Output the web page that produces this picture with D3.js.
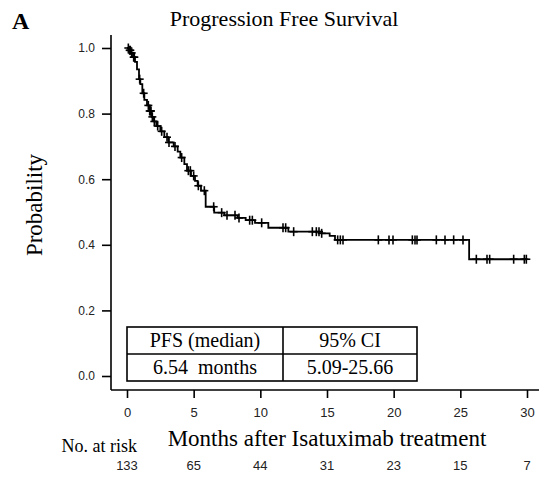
<!DOCTYPE html>
<html>
<head>
<meta charset="utf-8">
<script src="https://cdn.jsdelivr.net/npm/d3@7"></script>
<style>
  body { margin: 0; background: #fff; }
  svg { display: block; }
</style>
</head>
<body>
<svg id="chart" width="539" height="479"></svg>
<script>
// step times (months) and survival just after each step
var stepTimes = [0.15, 0.3, 0.45, 0.6, 0.75, 0.9, 1.0, 1.15, 1.3, 1.5, 1.7, 1.85, 2.0, 2.2, 2.5, 2.8,
  3.1, 3.5, 3.8, 4.0, 4.3, 4.5, 4.8, 5.1, 5.3, 5.55, 5.9, 6.54, 7.3, 8.3, 8.9, 9.6, 10.6, 12.1,
  14.6, 15.2, 15.6, 25.66];
var stepSurv = [0.993, 0.985, 0.972, 0.958, 0.935, 0.905, 0.89, 0.862, 0.842, 0.825, 0.808, 0.79,
  0.776, 0.762, 0.746, 0.728, 0.712, 0.7, 0.684, 0.666, 0.646, 0.626, 0.61, 0.595, 0.58, 0.565,
  0.516, 0.498, 0.49, 0.482, 0.475, 0.467, 0.452, 0.44, 0.435, 0.427, 0.415, 0.356];
// censored observations (months)
var censorTimes = [0.1, 0.2, 0.25, 0.35, 0.5, 0.55, 0.95, 1.25, 1.6, 1.7, 1.75, 1.8, 1.9, 2.05, 2.3,
  2.6, 3.0, 3.15, 3.6, 4.1, 4.6, 4.75, 5.0, 5.35, 5.8, 6.5, 7.1, 7.5, 8.1, 8.4, 9.2, 9.4, 10.1,
  11.7, 11.9, 12.5, 13.9, 14.2, 14.4, 14.6, 15.8, 16.0, 16.2, 18.85, 19.65, 19.95, 21.4, 21.6,
  21.75, 23.2, 23.85, 24.5, 25.2, 26.2, 27.0, 27.2, 29.0, 29.8, 29.95];

var xTicks = [0, 5, 10, 15, 20, 25, 30];
var yTicks = [0, 0.2, 0.4, 0.6, 0.8, 1.0];
var atRisk = [133, 65, 44, 31, 23, 15, 7];

var tableRows = [["PFS (median)", "95% CI"], ["6.54  months", "5.09-25.66"]];

var serif = "'Liberation Serif', 'Times New Roman', serif";
var sans = "'Liberation Sans', Arial, sans-serif";

var svg = d3.select("#chart");

var x = d3.scaleLinear().domain([0, 30]).range([127, 527]);
var y = d3.scaleLinear().domain([0, 1]).range([376, 48]);

// survival value at time t
function survAt(t) {
  var s = 1;
  for (var i = 0; i < stepTimes.length; i++) {
    if (stepTimes[i] <= t) s = stepSurv[i];
  }
  return s;
}

// frame lines (L shape)
var axisLeftX = x(0) - 16, axisBottomY = y(0) + 14;
svg.append("line")
  .attr("x1", axisLeftX).attr("x2", axisLeftX)
  .attr("y1", y(1) - 13).attr("y2", axisBottomY)
  .attr("stroke", "#000").attr("stroke-width", 1.6);
svg.append("line")
  .attr("x1", axisLeftX).attr("x2", 539)
  .attr("y1", axisBottomY).attr("y2", axisBottomY)
  .attr("stroke", "#000").attr("stroke-width", 1.6);

// y axis
var yAxis = svg.append("g")
  .attr("transform", "translate(" + axisLeftX + ",0)")
  .call(d3.axisLeft(y).tickValues(yTicks).tickFormat(d3.format(".1f")).tickSize(9).tickPadding(7));
yAxis.select(".domain").remove();
yAxis.selectAll("line").attr("stroke", "#000").attr("stroke-width", 1.6);
yAxis.selectAll("text").attr("font-family", sans).attr("font-size", 12).attr("fill", "#222");

// x axis
var xAxis = svg.append("g")
  .attr("transform", "translate(0," + axisBottomY + ")")
  .call(d3.axisBottom(x).tickValues(xTicks).tickSize(8).tickPadding(10));
xAxis.select(".domain").remove();
xAxis.selectAll("line").attr("stroke", "#000").attr("stroke-width", 1.6);
xAxis.selectAll("text").attr("font-family", sans).attr("font-size", 13).attr("fill", "#222");

// KM step curve
var pts = [[0, 1]];
stepTimes.forEach(function(t, i) { pts.push([t, stepSurv[i]]); });
pts.push([d3.max(censorTimes), survAt(d3.max(censorTimes))]);
var line = d3.line()
  .x(function(d) { return x(d[0]); })
  .y(function(d) { return y(d[1]); })
  .curve(d3.curveStepAfter);
svg.append("path")
  .attr("d", line(pts))
  .attr("fill", "none").attr("stroke", "#000").attr("stroke-width", 1.8);

// censor marks
var cm = svg.append("g").attr("stroke", "#000").attr("stroke-width", 1.6);
censorTimes.forEach(function(t) {
  var cx = x(t), cy = y(survAt(t));
  cm.append("line").attr("x1", cx).attr("x2", cx).attr("y1", cy - 4.5).attr("y2", cy + 4.5);
  cm.append("line").attr("x1", cx - 4).attr("x2", cx + 4).attr("y1", cy).attr("y2", cy);
});

// median table
var tbl = svg.append("g").attr("transform", "translate(" + x(0) + ",327)");
var colW = [156, 134], rowH = 27;
tbl.append("rect").attr("width", d3.sum(colW)).attr("height", rowH * 2)
  .attr("fill", "#fff").attr("stroke", "#000").attr("stroke-width", 1.6);
tbl.append("line").attr("x1", 0).attr("x2", d3.sum(colW)).attr("y1", rowH).attr("y2", rowH)
  .attr("stroke", "#000").attr("stroke-width", 1.6);
tbl.append("line").attr("x1", colW[0]).attr("x2", colW[0]).attr("y1", 0).attr("y2", rowH * 2)
  .attr("stroke", "#000").attr("stroke-width", 1.6);
tableRows.forEach(function(row, r) {
  row.forEach(function(cell, c) {
    tbl.append("text")
      .attr("x", c === 0 ? colW[0] / 2 : colW[0] + colW[1] / 2)
      .attr("y", r * rowH + 20)
      .attr("text-anchor", "middle")
      .attr("font-family", serif).attr("font-size", 20)
      .style("white-space", "pre")
      .text(cell);
  });
});

// titles
svg.append("text").attr("x", 12).attr("y", 29)
  .attr("font-family", serif).attr("font-size", 24).attr("font-weight", "bold").text("A");
svg.append("text").attr("x", 284).attr("y", 26).attr("text-anchor", "middle")
  .attr("font-family", serif).attr("font-size", 22).text("Progression Free Survival");
svg.append("text").attr("transform", "translate(42,205) rotate(-90)").attr("text-anchor", "middle")
  .attr("font-family", serif).attr("font-size", 23).text("Probability");
svg.append("text").attr("x", (x(0) + x(30)) / 2).attr("y", 446).attr("text-anchor", "middle")
  .attr("font-family", serif).attr("font-size", 23).text("Months after Isatuximab treatment");

// number at risk
svg.append("text").attr("x", 137).attr("y", 452).attr("text-anchor", "end")
  .attr("font-family", serif).attr("font-size", 18).text("No. at risk");
svg.append("g").selectAll("text").data(atRisk).enter().append("text")
  .attr("x", function(d, i) { return x(xTicks[i]); })
  .attr("y", 470)
  .attr("text-anchor", "middle")
  .attr("font-family", sans).attr("font-size", 13).attr("fill", "#222")
  .text(function(d) { return d; });
</script>
</body>
</html>
